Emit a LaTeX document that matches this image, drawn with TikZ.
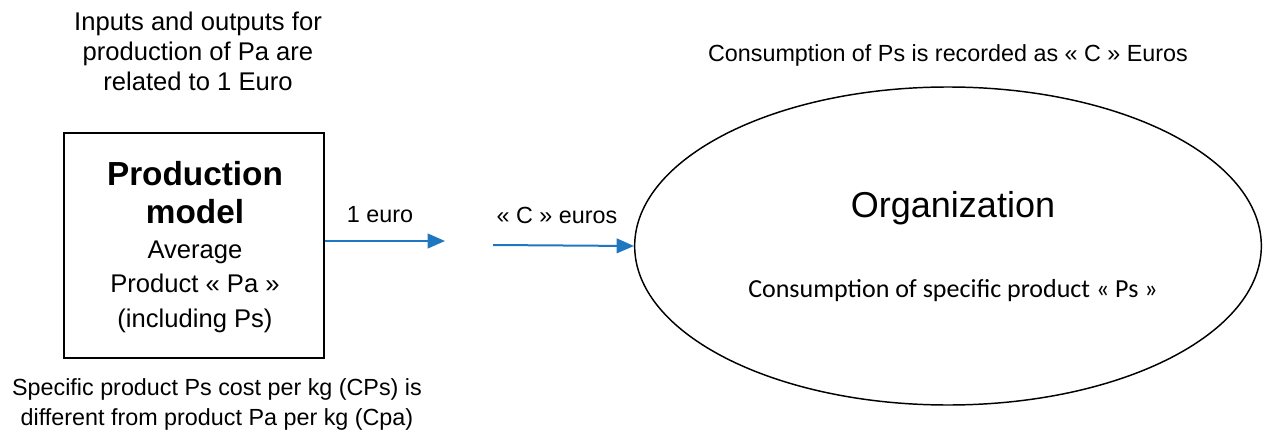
\documentclass[tikz,border=0pt]{standalone}
\usepackage{fontspec}
\setmainfont{Liberation Sans}
\newfontfamily\carlito{Carlito}
\usetikzlibrary{arrows.meta,shapes.geometric}
\definecolor{arrowblue}{RGB}{31,119,194}
\begin{document}
\begin{tikzpicture}[x=0.75pt,y=-0.75pt,
  txt/.style={font=\fontsize{17.5}{22.5}\selectfont, inner sep=0pt, align=center},
  boxline/.style={font=\fontsize{19.2}{23}\selectfont, inner sep=0pt, anchor=base},
  boldline/.style={font=\fontsize{25}{30}\selectfont\bfseries, inner sep=0pt, anchor=base},
  flow/.style={draw=arrowblue, line width=1.5pt, -{Triangle[length=13pt,width=11pt]}}]
\useasboundingbox (0,0) rectangle (1275,439);
% production model box
\node[draw, line width=1.3pt, minimum width=195pt, minimum height=168.75pt, inner sep=0pt] (box) at (194,245.5) {};
\node[boldline] (l1) at (195,185) {Production};
\node[boldline] (l2) at (195,223) {model};
\node[boxline] (l3) at (195,258) {Average};
\node[boxline] (l4) at (195,292.5) {Product « Pa »};
\node[boxline] (l5) at (195,327) {(including Ps)};
% organization ellipse
\node[draw, ellipse, line width=1.1pt, minimum width=470pt, minimum height=238.5pt, inner sep=0pt] (org) at (948,246) {};
\node[inner sep=0pt, font=\fontsize{27}{32}\selectfont] (orgt) at (953,208) {Organization};
\node[inner sep=0pt, font=\carlito\fontsize{19.5}{24}\selectfont] (orgc) at (953,291) {Consumption of specific product « Ps »};
% annotations
\node[txt, font=\fontsize{19.2}{22.5}\selectfont] (topl) at (198,51) {Inputs and outputs for\\production of Pa are\\related to 1 Euro};
\node[txt] (topr) at (948,55) {Consumption of Ps is recorded as « C » Euros};
\node[txt] (botl) at (217,404) {Specific product Ps cost per kg (CPs) is\\different from product Pa per kg (Cpa)};
% arrows
\coordinate (a1end) at (445,241);
\coordinate (a2start) at (493,245);
\draw[flow] (box.east |- a1end) -- (a1end);
\draw[flow] (a2start) -- (org.west);
\node[txt] (lab1) at (380,215) {1 euro};
\node[txt] (lab2) at (557,215) {« C » euros};
\end{tikzpicture}
\end{document}
